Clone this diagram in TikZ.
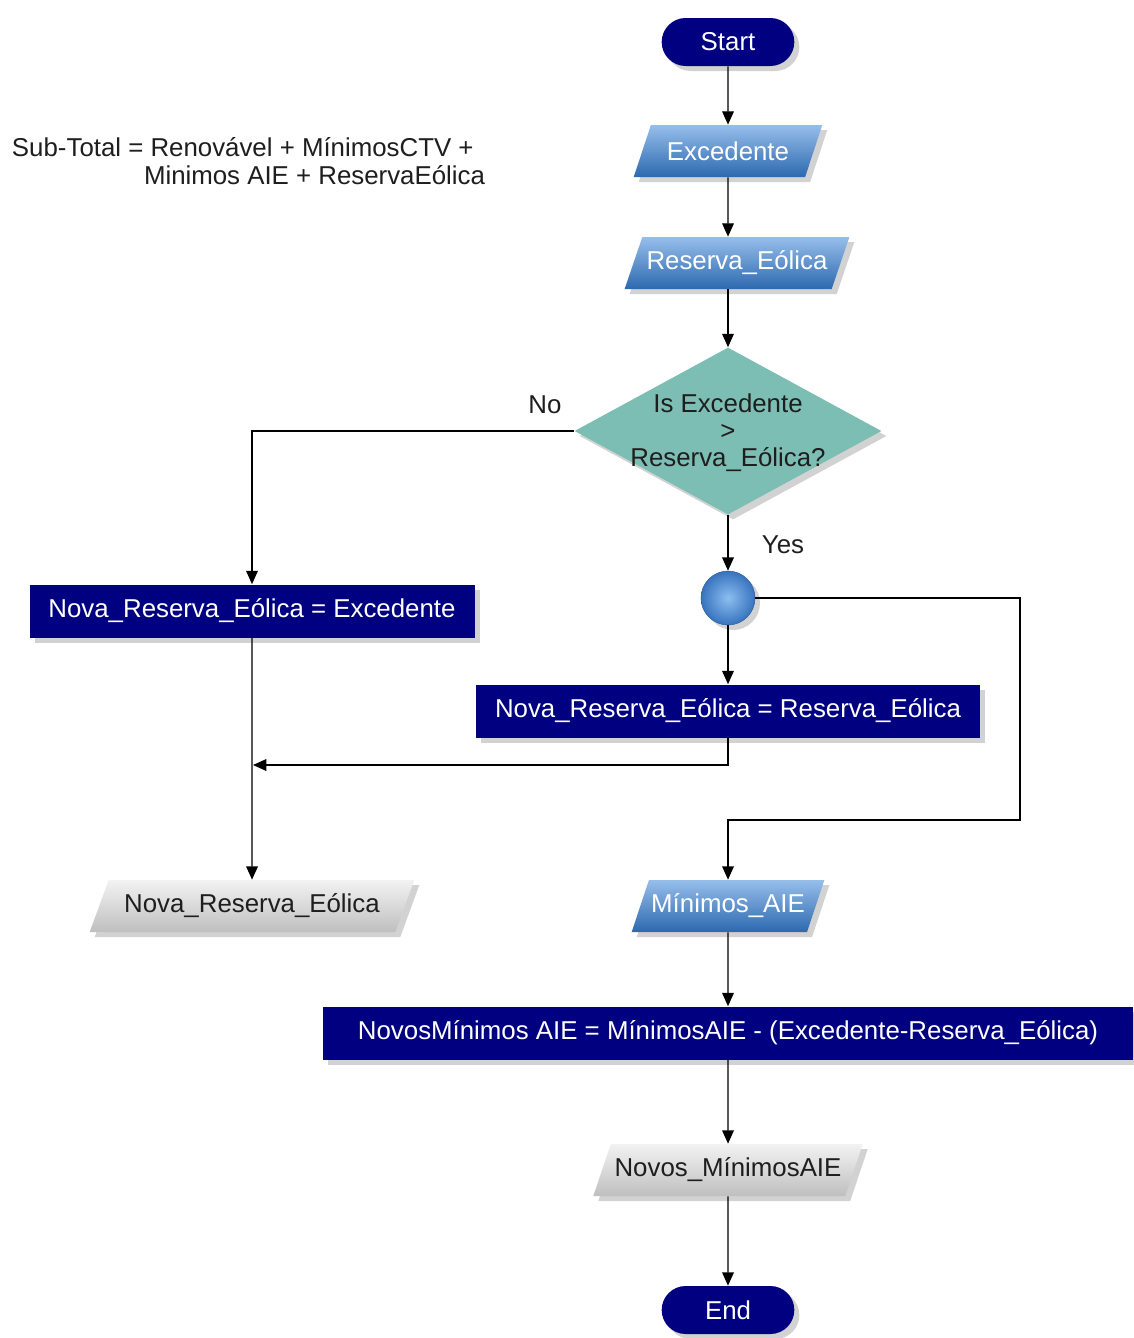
\documentclass[tikz,border=0pt]{standalone}
\usepackage{fontspec}
\setmainfont{Liberation Sans}
\usetikzlibrary{shapes.geometric,shapes.misc,shadows,arrows.meta}
\newdimen\px \px=0.6pt
\definecolor{navy}{RGB}{0,0,128}
\definecolor{teal2}{RGB}{125,190,180}
\definecolor{bluetop}{RGB}{150,190,235}
\definecolor{bluebot}{RGB}{45,105,175}
\definecolor{ballin}{RGB}{140,190,240}
\definecolor{ballout}{RGB}{55,115,190}
\definecolor{txt}{RGB}{30,30,30}
\tikzset{
  x=0.6pt, y=-0.6pt,
  every node/.style={font=\fontsize{15.5}{18}\selectfont, inner sep=1pt},
  shad/.style={drop shadow={shadow xshift=3pt, shadow yshift=-3pt, opacity=0.35, fill=gray}},
  terminal/.style={rounded rectangle, fill=navy, text=white, minimum width=136\px, minimum height=48\px, shad},
  process/.style={rectangle, fill=navy, text=white, minimum height=53\px, shad},
  iobase/.style={trapezium, trapezium left angle=58, trapezium right angle=122, trapezium stretches=true, minimum height=52\px, shad},
  ioblue/.style={iobase, top color=bluetop, bottom color=bluebot, text=white},
  iogrey/.style={iobase, top color=gray!10, bottom color=gray!50, text=txt},
  decision/.style={diamond, fill=teal2, minimum width=307\px, minimum height=167\px, inner sep=0pt, shad},
  conn/.style={circle, inner color=ballin, outer color=ballout, draw=ballout!80!black, line width=0.3pt, minimum size=54\px, inner sep=0pt, shad},
  plain/.style={text=txt},
  arr/.style={draw=black, line width=0.8pt, -{Triangle[length=8pt,width=7pt]}},
}
\begin{document}
\begin{tikzpicture}
\useasboundingbox[fill=white] (0,0) rectangle (1134,1338);
\node[terminal] (start) at (728,42) {Start};
\node[ioblue, minimum width=190\px] (exc) at (728,151) {Excedente};
\node[ioblue, minimum width=225\px] (res) at (737,263) {Reserva\_Eólica};
\node[decision] (dec) at (728,431) {};
\node[plain, align=center, font=\fontsize{15.5}{16.2}\selectfont] (dectxt) at (728,433) {Is Excedente\\>\\Reserva\_Eólica?};
\node[plain] (no) at (545,405) {No};
\node[plain] (yes) at (783,545) {Yes};
\node[conn] (circ) at (728,598) {};
\node[process, minimum width=445\px] (box1) at (252,611) {Nova\_Reserva\_Eólica = Excedente};
\node[process, minimum width=504\px] (box2) at (728,711) {Nova\_Reserva\_Eólica = Reserva\_Eólica};
\node[iogrey, minimum width=325\px] (nre) at (252,906) {Nova\_Reserva\_Eólica};
\node[ioblue, minimum width=193\px] (min) at (728,906) {Mínimos\_AIE};
\node[process, minimum width=810\px] (box3) at (728,1033) {NovosMínimos AIE = MínimosAIE - (Excedente-Reserva\_Eólica)};
\node[iogrey, minimum width=270\px] (nmin) at (728,1170) {Novos\_MínimosAIE};
\node[terminal] (end) at (728,1310) {End};
\node[plain, anchor=west] (sub1) at (10,147) {Sub-Total = Renovável + MínimosCTV +};
\node[plain, anchor=west] (sub2) at (142,175) {Minimos AIE + ReservaEólica};
\coordinate (jn) at (253,765);
\coordinate (rt) at (1020,820);
\draw[arr] (start) -- (exc);
\draw[arr] (exc) -- (exc.south |- res.north);
\draw[arr] (res.south -| dec.north) -- (dec.north);
\draw[arr] (dec.west) -| (box1.north);
\draw[arr] (dec.south) -- (circ.north);
\draw[arr] (circ.south) -- (box2.north);
\draw[arr] (box2.south) |- (jn);
\draw[arr] (box1.south) -- (nre.north);
\draw[arr] (circ.east) -| (rt) -| (min.north);
\draw[arr] (min.south) -- (box3.north);
\draw[arr] (box3.south) -- (nmin.north);
\draw[arr] (nmin.south) -- (end.north);
\end{tikzpicture}
\end{document}
